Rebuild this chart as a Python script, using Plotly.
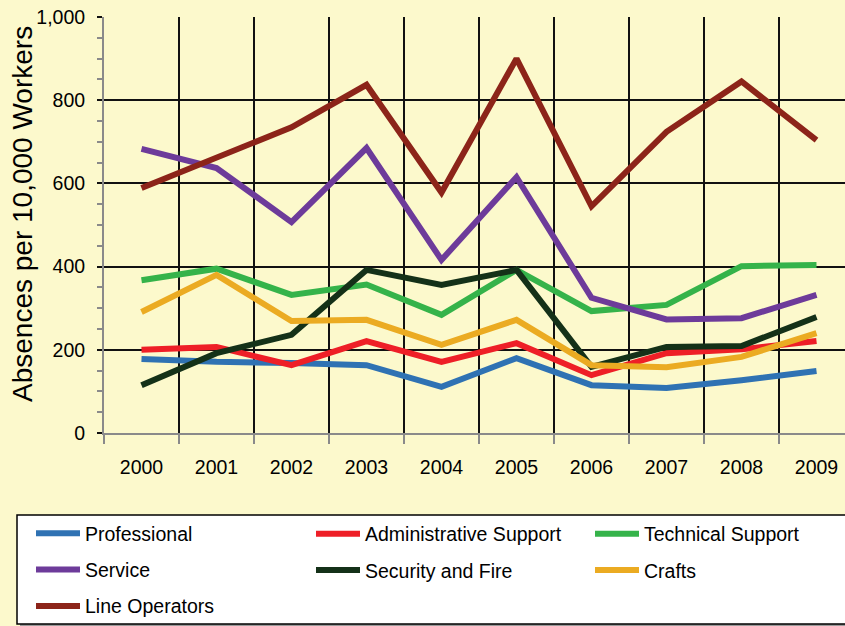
import plotly.graph_objects as go

# Absence rates by job group, 2000-2009
years = ["2000", "2001", "2002", "2003", "2004", "2005", "2006", "2007", "2008", "2009"]

professional = [178, 171, 168, 163, 111, 180, 115, 108, 127, 149]
admin_support = [200, 207, 163, 221, 171, 216, 139, 192, 201, 221]
technical_support = [367, 395, 332, 357, 284, 392, 293, 308, 401, 404]
service = [683, 637, 507, 685, 416, 615, 325, 273, 276, 332]
security_fire = [115, 192, 236, 392, 356, 392, 159, 207, 209, 279]
crafts = [291, 380, 269, 272, 212, 272, 163, 158, 183, 240]
line_operators = [589, 661, 735, 837, 578, 900, 545, 724, 845, 704]

# name, values, colour, legend column
series = [
    ("Professional", professional, "#2F72B3", "legend"),
    ("Administrative Support", admin_support, "#EE1F27", "legend2"),
    ("Technical Support", technical_support, "#35B34A", "legend3"),
    ("Service", service, "#6D3B9A", "legend"),
    ("Security and Fire", security_fire, "#143118", "legend2"),
    ("Crafts", crafts, "#EBAB22", "legend3"),
    ("Line Operators", line_operators, "#8C2419", "legend"),
]

W, H = 845, 626
ML, MR, MT, MB = 104, 0, 17, 193
BG = "#FCF9CC"
FONT = "Liberation Sans, Arial, sans-serif"

fig = go.Figure()
for name, vals, color, leg in series:
    fig.add_trace(go.Scatter(
        x=years, y=vals, name=name, mode="lines",
        line=dict(color=color, width=6),
        legend=leg, legendgroup=name,
    ))

def px_x(px):
    return (px - ML) / (W - ML - MR)

def px_y(py):
    return (H - MB - py) / (H - MT - MB)

# legend frame with a soft shadow
fig.add_shape(type="rect", xref="paper", yref="paper",
              x0=px_x(20), x1=px_x(852), y0=px_y(627), y1=px_y(518),
              fillcolor="#9a9a9a", line=dict(width=0), layer="below")
fig.add_shape(type="rect", xref="paper", yref="paper",
              x0=px_x(17), x1=px_x(850), y0=px_y(624), y1=px_y(515),
              fillcolor="white", line=dict(color="black", width=1.5), layer="below")

# y-axis title
fig.add_annotation(text="Absences per 10,000 Workers", textangle=-90,
                   xref="paper", yref="paper",
                   x=px_x(22), y=px_y(214), xanchor="center", yanchor="middle",
                   showarrow=False, font=dict(family=FONT, size=28, color="black"))

leg_common = dict(
    orientation="v", xref="container", yref="container",
    xanchor="left", yanchor="middle",
    bgcolor="rgba(0,0,0,0)", borderwidth=0,
    itemwidth=44, tracegroupgap=8,
    font=dict(family=FONT, size=19.5, color="black"),
)
fig.update_layout(
    legend=dict(leg_common, x=31 / W, y=1 - 570 / H),
    legend2=dict(leg_common, x=311 / W, y=1 - 552 / H),
    legend3=dict(leg_common, x=590 / W, y=1 - 552 / H),
)

fig.update_layout(
    width=W, height=H,
    margin=dict(l=ML, r=MR, t=MT, b=MB, pad=0, autoexpand=False),
    paper_bgcolor=BG, plot_bgcolor=BG,
    showlegend=True,
    font=dict(family=FONT, size=19.5, color="black"),
    xaxis=dict(
        type="category", range=[-0.5, 9.5 - 9 / 75],
        tickson="boundaries", ticks="outside", ticklen=9, tickwidth=1.5,
        tickcolor="#8a8a8a", showgrid=True, gridcolor="#111111", gridwidth=1.5,
        showline=True, linecolor="#8a8a8a", linewidth=2,
        tickfont=dict(family=FONT, size=19.5, color="black"),
        ticklabelstandoff=16, zeroline=False, automargin=False,
    ),
    yaxis=dict(
        range=[0, 1000], tickmode="linear", tick0=0, dtick=200,
        tickformat=",d", ticks="outside", ticklen=5, tickwidth=1.5, tickcolor="#111111",
        showgrid=True, gridcolor="#111111", gridwidth=1.5,
        showline=True, linecolor="#8a8a8a", linewidth=2, zeroline=False,
        minor=dict(dtick=50, ticks="outside", ticklen=5, tickcolor="#8a8a8a",
                   tickwidth=1.5, showgrid=False),
        tickfont=dict(family=FONT, size=19.5, color="black"),
        ticklabelstandoff=8, automargin=False,
    ),
)

fig.write_html("out.html")
